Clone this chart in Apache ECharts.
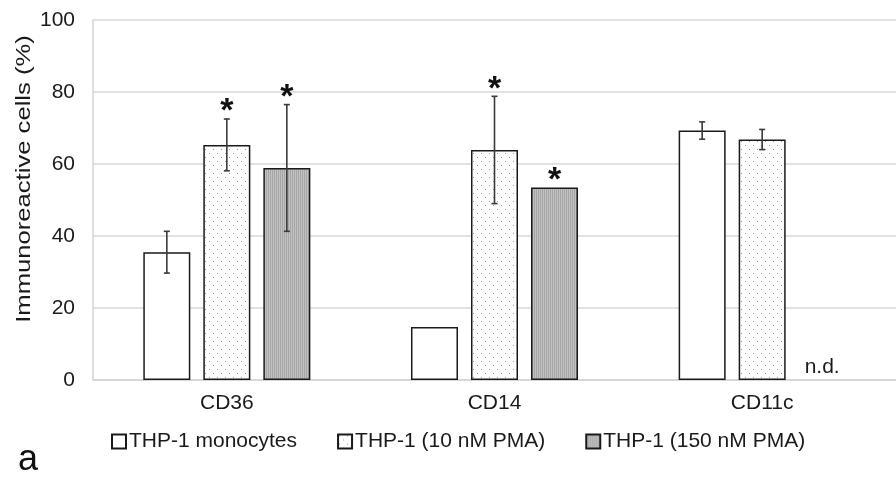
<!DOCTYPE html>
<html>
<head>
<meta charset="utf-8">
<script src="https://cdn.jsdelivr.net/npm/echarts@6/dist/echarts.min.js"></script>
<style>
html,body{margin:0;padding:0;background:#fff;}
#chart{width:896px;height:483px;}
</style>
</head>
<body>
<div id="chart"></div>
<script>
// ---- data ----
const categories = ['CD36', 'CD14', 'CD11c'];
const seriesNames = ['THP-1 monocytes', 'THP-1 (10 nM PMA)', 'THP-1 (150 nM PMA)'];
const monocytes = [35.5, 14.7, 69.3];
const pma10 = [65.3, 63.9, 66.8];
const pma150 = [58.9, 53.5, null];
const errMonocytes = [5.8, null, 2.4];
const errPma10 = [7.2, 14.9, 2.8];
const errPma150 = [17.6, null, null];
const sigMonocytes = [false, false, false];
const sigPma10 = [true, true, false];
const sigPma150 = [true, true, false];
const yTicks = [0, 20, 40, 60, 80, 100];

// ---- patterns ----
function dotPattern() {
  const c = document.createElement('canvas');
  c.width = 8; c.height = 8;
  const g = c.getContext('2d');
  g.fillStyle = '#ffffff'; g.fillRect(0, 0, 8, 8);
  g.fillStyle = '#9a9a9a';
  g.fillRect(1, 1, 1, 1);
  g.fillRect(5, 5, 1, 1);
  return c;
}
function greyPattern() {
  const c = document.createElement('canvas');
  c.width = 2; c.height = 2;
  const g = c.getContext('2d');
  g.fillStyle = '#c2c2c2'; g.fillRect(0, 0, 2, 2);
  g.fillStyle = '#a6a6a6'; g.fillRect(0, 0, 1, 2);
  return c;
}

const BAR_W = 47;
const BAR_GAP = 13 / 47;
const valuesList = [monocytes, pma10, pma150];
const errList = [errMonocytes, errPma10, errPma150];
const sigList = [sigMonocytes, sigPma10, sigPma150];
const fills = ['#ffffff', { image: dotPattern(), repeat: 'repeat' }, { image: greyPattern(), repeat: 'repeat' }];

const annoData = [];
valuesList.forEach((vals, s) => {
  vals.forEach((v, c) => {
    annoData.push([c, s, v == null ? 0 : v, errList[s][c] == null ? 0 : errList[s][c], sigList[s][c] ? 1 : 0, v == null ? 1 : 0]);
  });
});

const FONT = '"Liberation Sans", Arial, sans-serif';
const chart = echarts.init(document.getElementById('chart'), null, { renderer: 'canvas' });

const barSeries = valuesList.map((vals, s) => ({
  name: seriesNames[s],
  type: 'bar',
  data: vals,
  barWidth: BAR_W,
  barGap: (BAR_GAP * 100).toFixed(1) + '%',
  itemStyle: { color: fills[s], borderColor: '#1a1a1a', borderWidth: 1.5 },
  emphasis: { disabled: true },
  silent: true,
  z: 2
}));

const annoSeries = {
  type: 'custom',
  data: annoData,
  encode: { x: 0, y: 2 },
  silent: true,
  z: 5,
  renderItem: function (params, api) {
    const c = api.value(0), s = api.value(1), v = api.value(2), e = api.value(3), sig = api.value(4), nd = api.value(5);
    const off = (s - 1) * BAR_W * (1 + BAR_GAP);
    const base = api.coord([c, 0]);
    const x = base[0] + off;
    const children = [];
    if (nd) {
      children.push({
        type: 'text',
        style: { text: 'n.d.', x: x, y: base[1] - 2, align: 'center', verticalAlign: 'bottom', fill: '#1a1a1a', font: '21px ' + FONT }
      });
      return { type: 'group', children: children };
    }
    let topY = api.coord([c, v])[1];
    if (e) {
      const yHi = api.coord([c, v + e])[1];
      const yLo = api.coord([c, v - e])[1];
      const st = { stroke: '#3a3a3a', lineWidth: 1.6 };
      children.push({ type: 'line', shape: { x1: x, y1: yHi, x2: x, y2: yLo }, style: st });
      children.push({ type: 'line', shape: { x1: x - 3, y1: yHi, x2: x + 3, y2: yHi }, style: st });
      children.push({ type: 'line', shape: { x1: x - 3, y1: yLo, x2: x + 3, y2: yLo }, style: st });
      topY = yHi;
    }
    if (sig) {
      children.push({
        type: 'text',
        style: { text: '*', x: x, y: topY - 16 + 9, align: 'center', verticalAlign: 'middle', fill: '#111', font: 'bold 34px ' + FONT }
      });
    }
    return { type: 'group', children: children };
  }
};

const option = {
  animation: false,
  backgroundColor: '#ffffff',
  textStyle: { fontFamily: FONT },
  grid: { left: 93, top: 20, width: 812, height: 360, containLabel: false },
  legend: {
    data: seriesNames,
    left: 106, top: 426,
    itemWidth: 14, itemHeight: 14, itemGap: 40,
    icon: 'rect',
    selectedMode: false,
    textStyle: { fontSize: 21, color: '#1a1a1a', fontFamily: FONT, padding: [0, 0, 0, -2] }
  },
  xAxis: {
    type: 'category',
    data: categories,
    axisLine: { show: true, lineStyle: { color: '#d4d4d4', width: 1.5 } },
    axisTick: { show: false },
    axisLabel: { fontSize: 21, color: '#1a1a1a', margin: 13, fontFamily: FONT },
    splitLine: { show: false }
  },
  yAxis: {
    type: 'value',
    min: yTicks[0], max: yTicks[yTicks.length - 1], interval: yTicks[1] - yTicks[0],
    axisLine: { show: true, lineStyle: { color: '#d4d4d4', width: 1.5 } },
    axisTick: { show: false },
    axisLabel: { fontSize: 21, color: '#1a1a1a', margin: 18, fontFamily: FONT },
    splitLine: { show: true, lineStyle: { color: '#d9d9d9', width: 1.5 } }
  },
  graphic: [
    {
      type: 'text', x: 24, y: 179, rotation: Math.PI / 2, scaleX: 1.22,
      style: { text: 'Immunoreactive cells (%)', align: 'center', verticalAlign: 'middle', fill: '#1a1a1a', font: '21px ' + FONT }
    },
    {
      type: 'text', left: 18, top: 442,
      style: { text: 'a', fill: '#111', font: '36px ' + FONT }
    }
  ],
  series: barSeries.concat([annoSeries])
};
chart.setOption(option);
</script>
</body>
</html>
